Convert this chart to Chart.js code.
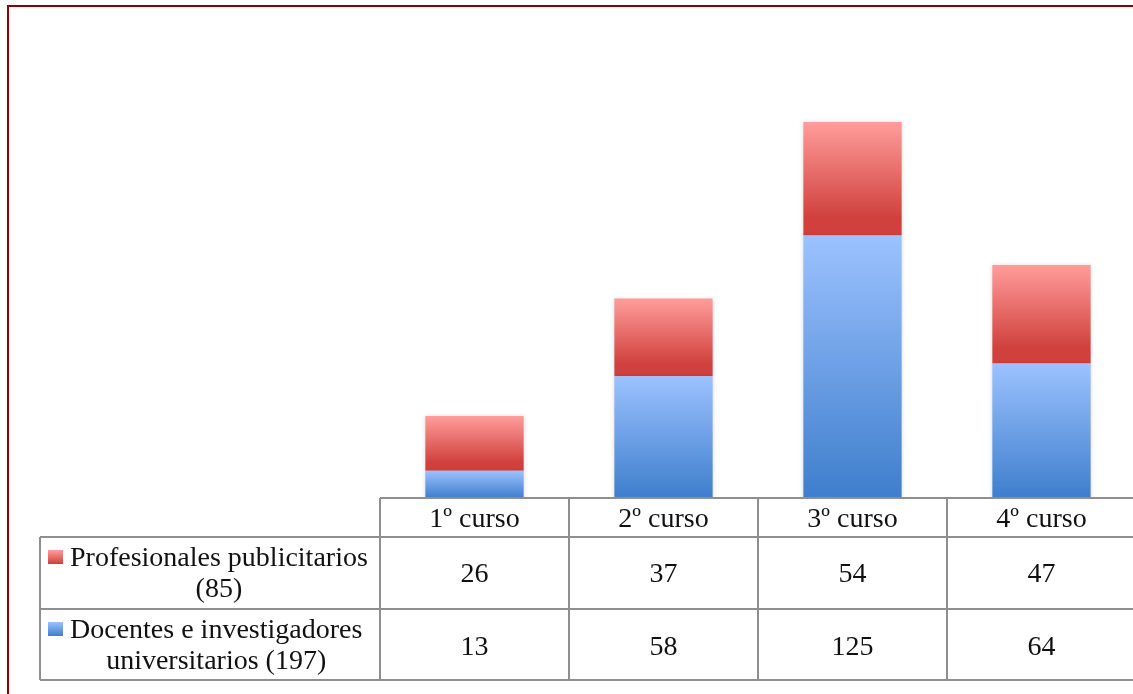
<!DOCTYPE html>
<html>
<head>
<meta charset="utf-8">
<script src="https://cdn.jsdelivr.net/npm/chart.js@4/dist/chart.umd.min.js"></script>
<style>
    html, body { margin: 0; padding: 0; background: #fff; overflow: hidden; }
    #marco { position: absolute; left: 7px; top: 5px; width: 1200px; height: 800px; border: 2px solid #8b0000; }
    #grafico { position: absolute; left: 0; top: 0; }
</style>
</head>
<body>
<div id="marco"></div>
<canvas id="grafico" width="1140" height="694"></canvas>
<script>
const cursos = ['1º curso', '2º curso', '3º curso', '4º curso'];
const profesionales = [26, 37, 54, 47];
const docentes = [13, 58, 125, 64];
const nombreProfesionales = ['Profesionales publicitarios', '(85)'];
const nombreDocentes = ['Docentes e investigadores', 'universitarios (197)'];

const fuente = '"Liberation Serif", "DejaVu Serif", serif';
const tamFuente = 28;

const colores = {
    rojo: ['#ff9d9b', '#d0403c'],
    azul: ['#9cc2ff', '#3e7ecc']
};

// Degradado vertical para cada segmento de la barra
function degradado(c, par, base) {
    const chart = c.chart;
    if (c.type !== 'data' || !chart.chartArea) return par[1];
    const y = chart.scales.y;
    const abajo = base ? base[c.dataIndex] : 0;
    const arriba = abajo + c.raw;
    const yTop = y.getPixelForValue(arriba);
    const yBot = y.getPixelForValue(abajo);
    const g = chart.ctx.createLinearGradient(0, yTop, 0, yBot);
    if (par === colores.rojo) {
        g.addColorStop(0, par[0]);
        g.addColorStop(0.85, par[1]);
        g.addColorStop(1, par[1]);
    } else {
        g.addColorStop(0, par[0]);
        g.addColorStop(1, par[1]);
    }
    return g;
}

function cuadroLeyenda(ctx, x, y, par) {
    const g = ctx.createLinearGradient(0, y, 0, y + 14);
    g.addColorStop(0, par[0]);
    g.addColorStop(1, par[1]);
    ctx.fillStyle = g;
    ctx.fillRect(x, y, 15, 14);
}

// Sombra suave alrededor de las barras
const sombraPlugin = {
    id: 'sombra',
    beforeDatasetsDraw(chart) {
        chart.ctx.save();
        chart.ctx.shadowColor = 'rgba(0, 0, 0, 0.15)';
        chart.ctx.shadowBlur = 4;
    },
    afterDatasetsDraw(chart) {
        chart.ctx.restore();
    }
};

// Tabla de datos debajo del gráfico
const tablaPlugin = {
    id: 'tabla',
    afterDraw(chart) {
        const ctx = chart.ctx;
        const area = chart.chartArea;
        const x = chart.scales.x;
        const ancho = x.getPixelForValue(1) - x.getPixelForValue(0);
        const izq = area.left;
        const der = area.right;
        const tablaIzq = 40;
        const yCab = area.bottom;
        const yFila1 = yCab + 39;
        const yFila2 = yFila1 + 72;
        const yFin = yFila2 + 71;

        ctx.save();
        ctx.strokeStyle = '#8f8f8f';
        ctx.lineWidth = 2;
        ctx.beginPath();
        ctx.moveTo(izq, yCab); ctx.lineTo(der + 10, yCab);
        [yFila1, yFila2, yFin].forEach(yy => { ctx.moveTo(tablaIzq, yy); ctx.lineTo(der + 10, yy); });
        ctx.moveTo(tablaIzq, yFila1); ctx.lineTo(tablaIzq, yFin);
        for (let i = 0; i < cursos.length; i++) {
            const xx = x.getPixelForValue(i) - ancho / 2;
            ctx.moveTo(xx, yCab); ctx.lineTo(xx, yFin);
        }
        ctx.stroke();

        ctx.fillStyle = '#111';
        ctx.font = tamFuente + 'px ' + fuente;
        ctx.textAlign = 'center';
        ctx.textBaseline = 'alphabetic';
        cursos.forEach((curso, i) => {
            const cx = x.getPixelForValue(i);
            ctx.fillText(curso, cx, yCab + 29);
            ctx.fillText(String(profesionales[i]), cx, yFila1 + 45);
            ctx.fillText(String(docentes[i]), cx, yFila2 + 46);
        });

        // Encabezados de fila con su cuadro de leyenda
        const filas = [
            { lineas: nombreProfesionales, par: colores.rojo, y: yFila1 },
            { lineas: nombreDocentes, par: colores.azul, y: yFila2 }
        ];
        filas.forEach(f => {
            const w = Math.max(...f.lineas.map(l => ctx.measureText(l).width));
            const centro = 70 + w / 2;
            ctx.fillStyle = '#111';
            ctx.fillText(f.lineas[0], centro, f.y + 29);
            ctx.fillText(f.lineas[1], centro, f.y + 60);
            cuadroLeyenda(ctx, 48, f.y + 13, f.par);
        });
        ctx.restore();
    }
};

const ctx = document.getElementById('grafico').getContext('2d');
new Chart(ctx, {
    type: 'bar',
    data: {
        labels: cursos,
        datasets: [
            {
                label: nombreDocentes.join(' '),
                data: docentes,
                backgroundColor: c => degradado(c, colores.azul, null),
                borderWidth: 0
            },
            {
                label: nombreProfesionales.join(' '),
                data: profesionales,
                backgroundColor: c => degradado(c, colores.rojo, docentes),
                borderWidth: 0
            }
        ]
    },
    options: {
        responsive: false,
        animation: false,
        layout: { padding: { left: 380, right: 4, top: 78, bottom: 196 } },
        datasets: { bar: { categoryPercentage: 1, barPercentage: 0.52 } },
        scales: {
            x: { stacked: true, display: false },
            y: { stacked: true, display: false, min: 0, max: 200 }
        },
        plugins: {
            legend: { display: false },
            tooltip: { enabled: false }
        }
    },
    plugins: [sombraPlugin, tablaPlugin]
});
</script>
</body>
</html>
